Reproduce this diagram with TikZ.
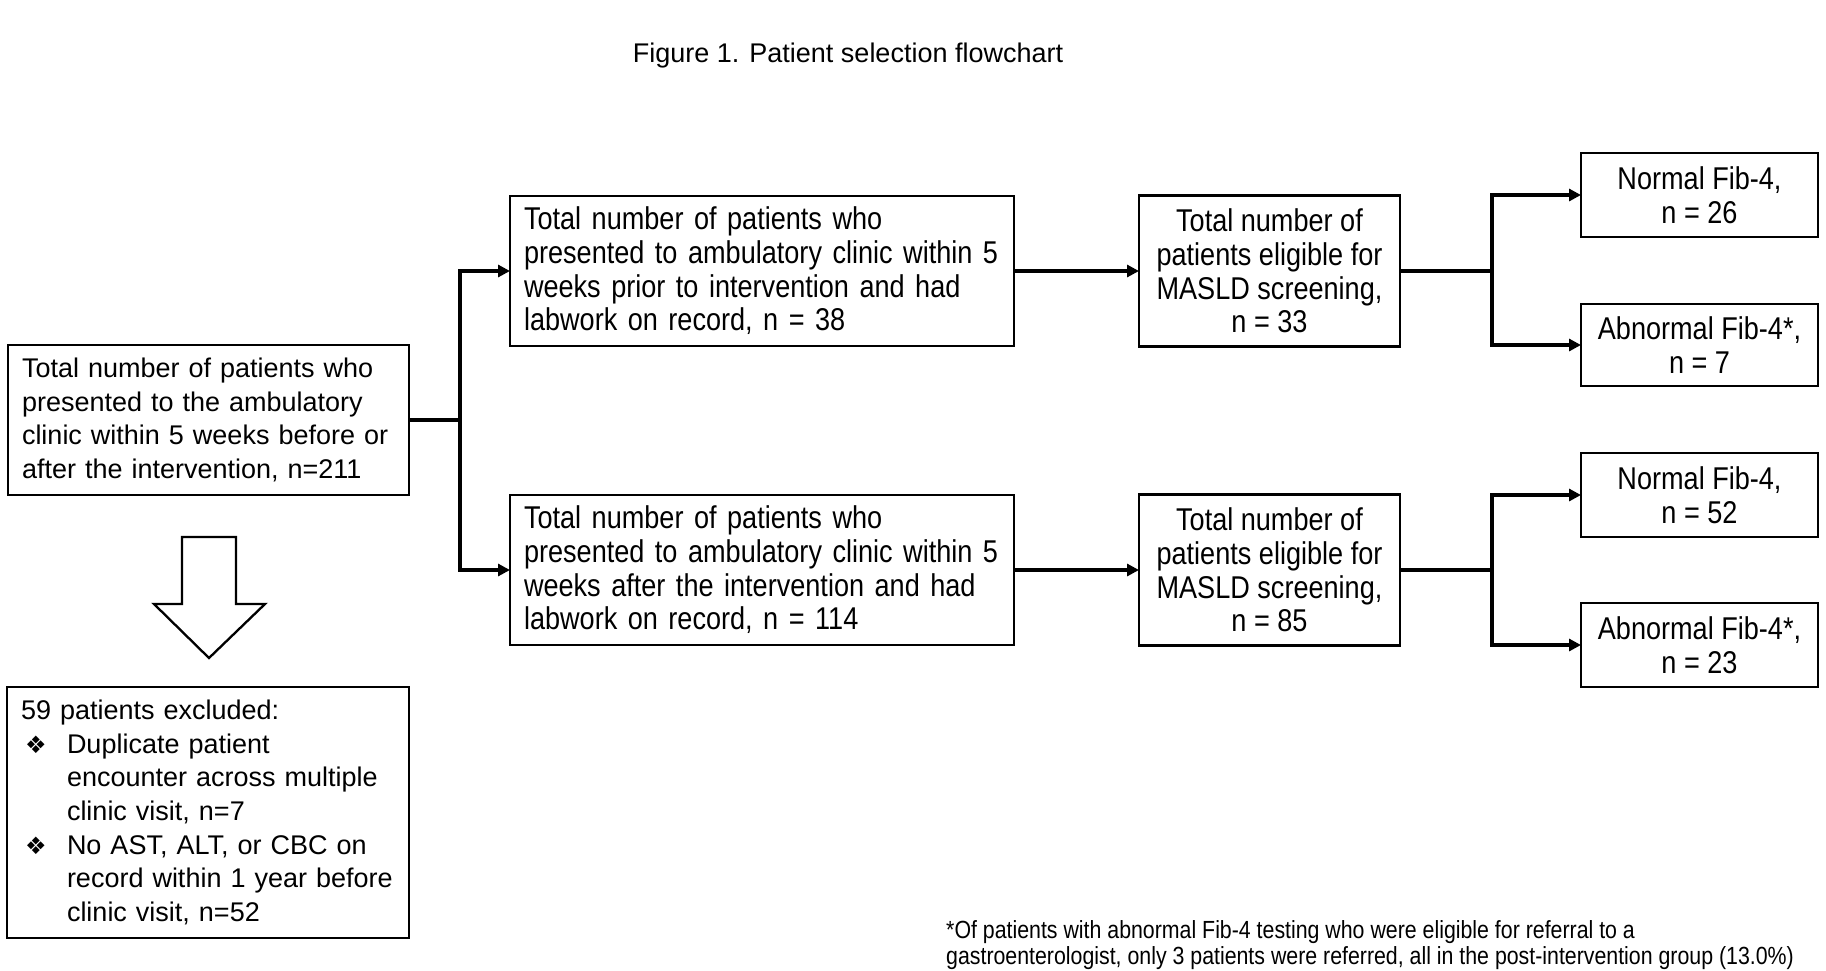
\documentclass[tikz,border=0pt]{standalone}
\usepackage{fontspec}
\setmainfont{Liberation Sans}
\newfontfamily\nar[FakeStretch=0.86]{Liberation Sans}
\newfontfamily\djv{DejaVu Sans}
\usetikzlibrary{arrows.meta}
\newcommand\mybul{\makebox[46pt][l]{\hspace{4pt}{\djv\fontsize{24}{24}\selectfont ❖}}}
\newcommand\myind{\hspace*{46pt}}
\begin{document}
\begin{tikzpicture}[x=1pt,y=-1pt,
  box/.style={draw, line width=2.3pt, inner sep=0pt, outer sep=0pt},
  reg/.style={font=\fontsize{27}{33.7}\selectfont},
  nr/.style={font=\nar\fontsize{31.5}{33.7}\selectfont},
  conn/.style={line width=3.2pt},
  arr/.style={conn, -{Triangle[length=12pt,width=12pt]}}]
\useasboundingbox (0,0) rectangle (1826,970);

\node[reg] (T) at (848,55.5) {Figure 1. Patient selection flowchart};

\node[box, reg, minimum width=401pt, minimum height=150pt, text width=373pt, align=left] (A) at (208.5,420)
 {Total number of patients who\\presented to the ambulatory\\clinic within 5 weeks before or\\after the intervention, n=211};

\node[box, reg, minimum width=402pt, minimum height=251pt, text width=374pt, align=left] (X) at (208,812.5)
 {59 patients excluded:\\
  \mybul Duplicate patient\\
  \myind encounter across multiple\\
  \myind clinic visit, n=7\\
  \mybul No AST, ALT, or CBC on\\
  \myind record within 1 year before\\
  \myind clinic visit, n=52};

\draw[line width=2.3pt, fill=white, line join=miter] (182,537) -- (236,537) -- (236,604) -- (265,604) -- (209,658) -- (154,604) -- (182,604) -- cycle;

\node[box, nr, minimum width=504pt, minimum height=150pt, text width=476pt, align=left] (B1) at (762,271)
 {Total number of patients who\\presented to ambulatory clinic within 5\\weeks prior to intervention and had\\labwork on record, n = 38};
\node[box, nr, minimum width=504pt, minimum height=150pt, text width=476pt, align=left] (B2) at (762,570)
 {Total number of patients who\\presented to ambulatory clinic within 5\\weeks after the intervention and had\\labwork on record, n = 114};

\node[box, nr, minimum width=261pt, minimum height=151pt, align=center] (C1) at (1269.5,271)
 {Total number of\\patients eligible for\\MASLD screening,\\n = 33};
\node[box, nr, minimum width=261pt, minimum height=151pt, align=center] (C2) at (1269.5,570)
 {Total number of\\patients eligible for\\MASLD screening,\\n = 85};

\node[box, nr, minimum width=237pt, minimum height=84pt, align=center] (D1) at (1699.5,195) {Normal Fib-4,\\n = 26};
\node[box, nr, minimum width=237pt, minimum height=82pt, align=center] (D2) at (1699.5,345) {Abnormal Fib-4*,\\n = 7};
\node[box, nr, minimum width=237pt, minimum height=84pt, align=center] (D3) at (1699.5,495) {Normal Fib-4,\\n = 52};
\node[box, nr, minimum width=237pt, minimum height=84pt, align=center] (D4) at (1699.5,645) {Abnormal Fib-4*,\\n = 23};

\node[anchor=west, inner sep=0pt, align=left, font=\nar\fontsize{24.8}{26.5}\selectfont] (FN) at (946,945)
 {*Of patients with abnormal Fib-4 testing who were eligible for referral to a\\gastroenterologist, only 3 patients were referred, all in the post-intervention group (13.0\%)};

\coordinate (j1) at (460,420);
\draw[conn] (A.east) -- (j1);
\draw[arr] (j1) |- (B1.west);
\draw[arr] (j1) |- (B2.west);

\draw[arr] (B1.east) -- (C1.west);
\draw[arr] (B2.east) -- (C2.west);

\coordinate (j2) at (1492,271);
\draw[conn] (C1.east) -- (j2);
\draw[arr] (j2) |- (D1.west);
\draw[arr] (j2) |- (D2.west);

\coordinate (j3) at (1492,570);
\draw[conn] (C2.east) -- (j3);
\draw[arr] (j3) |- (D3.west);
\draw[arr] (j3) |- (D4.west);
\end{tikzpicture}
\end{document}
